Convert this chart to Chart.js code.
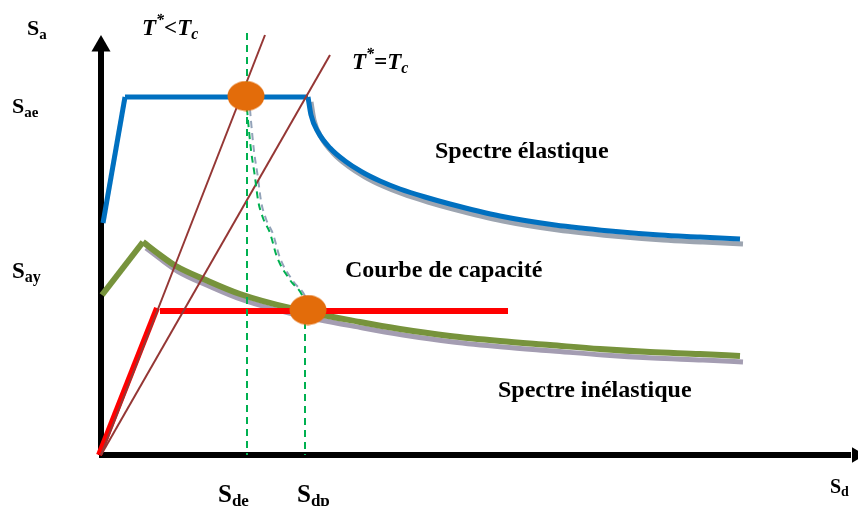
<!DOCTYPE html>
<html>
<head>
<meta charset="utf-8">
<script src="https://cdn.jsdelivr.net/npm/chart.js@4/dist/chart.umd.min.js"></script>
<style>
  html, body { margin: 0; padding: 0; background: #ffffff; }
  #wrap { width: 858px; height: 506px; }
</style>
</head>
<body>
<div id="wrap"><canvas id="chart" width="858" height="506"></canvas></div>
<script>
// Spectral displacement Sd (horizontal) and spectral acceleration Sa (vertical), schematic units

// Axes extents
const axisSd = [0, 75.0];
const axisSa = [0, 40.5];
const arrowSd = [75.55];
const arrowSa = [40.9];

// Elastic spectrum
const elasticRampSd = [0.2, 2.4];
const elasticRampSa = [23.2, 35.8];
const elasticPlateauSd = [2.4, 20.7];
const elasticPlateauSa = [35.8, 35.8];
const elasticDecaySd = [20.7, 21.0, 21.7, 22.9, 24.4, 26.1, 27.9, 29.9, 32.4, 34.9, 39.9, 45.4, 50.9, 55.9, 59.9, 63.9];
const elasticDecaySa = [35.8, 34.0, 32.3, 30.7, 29.4, 28.3, 27.4, 26.6, 25.8, 25.1, 23.9, 23.0, 22.4, 22.0, 21.8, 21.6];

// Inelastic spectrum
const inelasticRampSd = [0.1, 4.2];
const inelasticRampSa = [16.0, 21.3];
const inelasticDecaySd = [4.2, 5.9, 7.4, 10.6, 13.9, 18.9, 25.9, 29.9, 34.9, 39.9, 44.9, 49.9, 54.9, 59.9, 63.9];
const inelasticDecaySa = [21.3, 20.0, 18.95, 17.45, 16.1, 14.7, 13.3, 12.6, 11.9, 11.4, 11.0, 10.6, 10.3, 10.1, 9.9];

// Capacity curve (bilinear)
const capacityRiseSd = [-0.2, 5.6];
const capacityRiseSa = [0, 14.7];
const capacityFlatSd = [5.9, 40.7];
const capacityFlatSa = [14.4, 14.4];

// Period lines from the origin
const periodShortSd = [0, 16.4];
const periodShortSa = [0, 42.0];
const periodCornerSd = [0, 22.9];
const periodCornerSa = [0, 40.0];

// Displacement demands and the reduction path between them
const demandElasticSd = [14.6, 14.6];
const demandElasticSa = [42.2, 0];
const demandInelasticSd = [20.4, 20.4];
const demandInelasticSa = [14.5, 0];
const reductionSd = [14.5, 14.7, 15.0, 15.4, 15.7, 16.2, 16.9, 17.6, 18.9, 20.2, 20.6];
const reductionSa = [35.9, 33.5, 30.5, 27.8, 25.5, 23.7, 22.2, 19.8, 17.5, 15.8, 14.5];

// Performance points
const performanceSd = [14.5, 20.7];
const performanceSa = [35.9, 14.5];

const pts = (xs, ys) => xs.map((x, i) => ({ x: x, y: ys[i] }));

function ellipseMark(w, h, color) {
  const c = document.createElement('canvas');
  c.width = w; c.height = h;
  const g = c.getContext('2d');
  g.fillStyle = color;
  g.beginPath();
  g.ellipse(w / 2, h / 2, w / 2 - 0.5, h / 2 - 0.5, 0, 0, Math.PI * 2);
  g.fill();
  return c;
}

const BLUE = '#0070c0', GREEN = '#77933c', RED = '#ff0000', BROWN = '#953735';
const DASH_GREEN = '#00b050', ORANGE = '#e36c0a';

function line(data, color, width, order, extra) {
  return Object.assign({
    data: data, showLine: true, borderColor: color, borderWidth: width,
    pointRadius: 0, pointHoverRadius: 0, fill: false, tension: 0, order: order
  }, extra || {});
}

const datasets = [
  // axes
  line(pts([axisSd[0] - 0.2, axisSd[1]], [0, 0]), '#000000', 6, 20),
  line(pts([0, 0], axisSa), '#000000', 6, 20),
  { data: pts(arrowSd, [0]), showLine: false, pointStyle: 'triangle', pointRadius: 9, pointRotation: 90,
    pointBackgroundColor: '#000000', pointBorderWidth: 0, order: 19 },
  { data: pts([0], arrowSa), showLine: false, pointStyle: 'triangle', pointRadius: 11, pointRotation: 0,
    pointBackgroundColor: '#000000', pointBorderWidth: 0, order: 19 },

  // shadows under the decaying branches
  line(pts(elasticDecaySd, elasticDecaySa), '#9da5b1', 5, 15, { cubicInterpolationMode: 'monotone', shift: [3, 5] }),
  line(pts(inelasticDecaySd, inelasticDecaySa), '#a49db2', 5, 15, { cubicInterpolationMode: 'monotone', shift: [3, 6] }),
  line(pts(reductionSd, reductionSa), '#93a3b9', 2, 15, { cubicInterpolationMode: 'monotone', borderDash: [7, 5], shift: [3, 1] }),

  // elastic spectrum
  line(pts(elasticRampSd, elasticRampSa), BLUE, 5, 10),
  line(pts(elasticPlateauSd, elasticPlateauSa), BLUE, 5, 10),
  line(pts(elasticDecaySd, elasticDecaySa), BLUE, 5, 10, { cubicInterpolationMode: 'monotone' }),

  // inelastic spectrum
  line(pts(inelasticRampSd, inelasticRampSa), GREEN, 6, 10),
  line(pts(inelasticDecaySd, inelasticDecaySa), GREEN, 6, 10, { cubicInterpolationMode: 'monotone' }),

  // capacity curve
  line(pts(capacityRiseSd, capacityRiseSa), RED, 6, 8),
  line(pts(capacityFlatSd, capacityFlatSa), RED, 6, 8),

  // period lines
  line(pts(periodShortSd, periodShortSa), BROWN, 2, 6),
  line(pts(periodCornerSd, periodCornerSa), BROWN, 2, 6),

  // demand lines
  line(pts(demandElasticSd, demandElasticSa), DASH_GREEN, 2, 5, { borderDash: [7, 5] }),
  line(pts(demandInelasticSd, demandInelasticSa), DASH_GREEN, 2, 5, { borderDash: [7, 5] }),
  line(pts(reductionSd, reductionSa), DASH_GREEN, 2, 5, { cubicInterpolationMode: 'monotone', borderDash: [7, 5] }),

  // performance points
  { data: pts(performanceSd, performanceSa), showLine: false, pointStyle: ellipseMark(38, 31, ORANGE),
    pointRadius: 16, pointHoverRadius: 16, order: 0 }
];

// Offsets a dataset while it is drawn (used for the drop shadows)
const shiftPlugin = {
  id: 'shift',
  beforeDatasetDraw(chart, args) {
    const s = chart.data.datasets[args.index].shift;
    if (s) { chart.ctx.save(); chart.ctx.translate(s[0], s[1]); }
  },
  afterDatasetDraw(chart, args) {
    if (chart.data.datasets[args.index].shift) chart.ctx.restore();
  }
};

// Text annotations with sub- and superscripts
const labels = [
  { x: -7.4, y: 42.0, size: 22, parts: [{ t: 'S' }, { t: 'a', sub: true }] },
  { x: 4.1, y: 42.0, size: 23, italic: true, parts: [{ t: 'T' }, { t: '*', sup: true }, { t: '<T' }, { t: 'c', sub: true }] },
  { x: -8.9, y: 34.2, size: 22, parts: [{ t: 'S' }, { t: 'ae', sub: true }] },
  { x: 25.1, y: 38.6, size: 23, italic: true, parts: [{ t: 'T' }, { t: '*', sup: true }, { t: '=T' }, { t: 'c', sub: true }] },
  { x: -8.9, y: 17.7, size: 23, parts: [{ t: 'S' }, { t: 'ay', sub: true }] },
  { x: 33.4, y: 29.7, size: 24, parts: [{ t: 'Spectre élastique' }] },
  { x: 24.4, y: 17.8, size: 24, parts: [{ t: 'Courbe de capacité' }] },
  { x: 39.7, y: 5.8, size: 24, parts: [{ t: 'Spectre inélastique' }] },
  { x: 11.7, y: -4.7, size: 25, parts: [{ t: 'S' }, { t: 'de', sub: true }] },
  { x: 19.6, y: -4.7, size: 25, parts: [{ t: 'S' }, { t: 'dp', sub: true }] },
  { x: 72.9, y: -3.8, size: 20, parts: [{ t: 'S' }, { t: 'd', sub: true }] }
];

const labelPlugin = {
  id: 'labels',
  afterDatasetsDraw(chart) {
    const ctx = chart.ctx;
    const xs = chart.scales.x, ys = chart.scales.y;
    ctx.save();
    ctx.fillStyle = '#000000';
    ctx.textBaseline = 'alphabetic';
    ctx.textAlign = 'left';
    for (const l of labels) {
      let cx = xs.getPixelForValue(l.x);
      const by = ys.getPixelForValue(l.y);
      for (const p of l.parts) {
        const small = p.sub || p.sup;
        const size = small ? Math.round(l.size * 0.68) : l.size;
        ctx.font = (l.italic ? 'italic ' : '') + 'bold ' + size + 'px "Liberation Serif", "Times New Roman", serif';
        const dy = p.sub ? l.size * 0.17 : (p.sup ? -l.size * 0.42 : 0);
        ctx.fillText(p.t, cx, by + dy);
        cx += ctx.measureText(p.t).width;
      }
    }
    ctx.restore();
  }
};

new Chart(document.getElementById('chart'), {
  type: 'scatter',
  data: { datasets: datasets },
  options: {
    responsive: false,
    devicePixelRatio: 1,
    animation: false,
    events: [],
    layout: { padding: 0, autoPadding: false },
    plugins: { legend: { display: false }, tooltip: { enabled: false } },
    scales: {
      x: { type: 'linear', min: -10.1, max: 75.7, display: false },
      y: { type: 'linear', min: -5.1, max: 45.5, display: false }
    }
  },
  plugins: [shiftPlugin, labelPlugin]
});
</script>
</body>
</html>
